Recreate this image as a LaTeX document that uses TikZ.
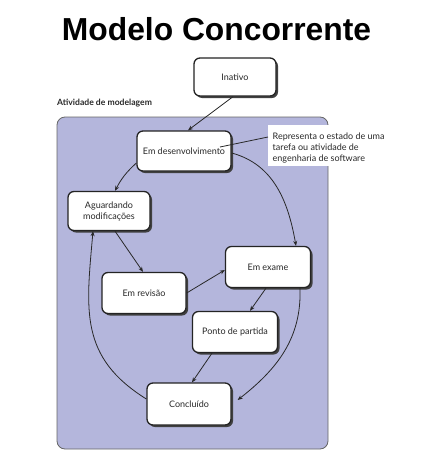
\documentclass[tikz,border=0pt]{standalone}
\usepackage{fontspec}
\setmainfont{Lato}
\newfontfamily\titlefont{Liberation Sans}
\usetikzlibrary{arrows.meta,shadows}
\definecolor{panel}{RGB}{180,182,220}
\definecolor{ink}{RGB}{40,40,40}
\tikzset{
  statebox/.style={draw=ink!90!black, line width=1.3pt, fill=white, rounded corners=6pt,
    minimum width=#1, minimum height=40pt, align=center, text=ink,
    font=\fontsize{9}{11}\selectfont, inner sep=2pt,
    drop shadow={shadow xshift=2pt, shadow yshift=-2pt, fill=black!75, opacity=1}},
  statebox/.default=84pt,
  flow/.style={draw=ink, line width=0.8pt, -{Stealth[length=5pt,width=4pt]}},
}
\begin{document}
\begin{tikzpicture}[x=1pt,y=-1pt]
\useasboundingbox (0,0) rectangle (430,458);
\node[font=\titlefont\bfseries\fontsize{31.8}{34}\selectfont, anchor=base] (title) at (216.5,40) {Modelo Concorrente};
\node[font=\bfseries\fontsize{8.6}{10}\selectfont, anchor=base west, inner sep=0pt, text=ink] (lbl) at (57,105) {Atividade de modelagem};
\draw[draw=black!60, line width=0.8pt, fill=panel, rounded corners=8pt] (57,117) rectangle (328,449);
\node[statebox=82pt, minimum height=38pt] (ina) at (235,77) {Inativo};
\node[statebox=94pt] (des) at (184,151) {Em desenvolvimento};
\node[statebox=82pt, minimum height=39pt] (agu) at (109,211) {Aguardando\\modificações};
\node[statebox=85pt, minimum height=41pt] (exa) at (268,267) {Em exame};
\node[statebox=84pt, minimum height=41pt] (rev) at (144,293) {Em revisão};
\node[statebox=85pt, minimum height=41pt] (pon) at (235,332) {Ponto de partida};
\node[statebox=84pt, minimum height=42pt] (con) at (189,404) {Concluído};
\node[anchor=north west, fill=white, inner xsep=4.5pt, inner ysep=3.5pt, align=left, text=ink,
  font=\fontsize{9}{11}\selectfont] (note) at (268,125) {\rule{0pt}{10.5pt}Representa o estado de uma\\tarefa ou atividade de\\engenharia de software};
\draw[draw=ink, line width=0.8pt] ([xshift=36pt,yshift=4pt]des.center) -- ([yshift=-12pt]note.north west);
\draw[flow] ([xshift=-2pt]ina.south) -- ([xshift=4pt]des.north);
\draw[flow] ([yshift=-12pt]des.west) to[bend right=10] ([xshift=6pt]agu.north);
\draw[flow] ([yshift=-2pt]des.east) to[out=-15,in=100] ([xshift=28pt]exa.north);
\draw[flow] ([xshift=6pt]agu.south) -- ([xshift=-1pt]rev.north);
\draw[flow] (rev.east) -- ([yshift=-3pt]exa.west);
\draw[flow] ([xshift=-2pt]exa.south) -- ([xshift=15pt]pon.north);
\draw[flow] ([xshift=-23pt]pon.south) -- ([xshift=3pt]con.north);
\draw[flow] ([xshift=32pt]exa.south) to[out=-88,in=38] ([xshift=6pt,yshift=4pt]con.east);
\draw[flow] ([yshift=5pt]con.west) to[out=148,in=-95,looseness=1.15] ([xshift=-16pt]agu.south);
\end{tikzpicture}
\end{document}
